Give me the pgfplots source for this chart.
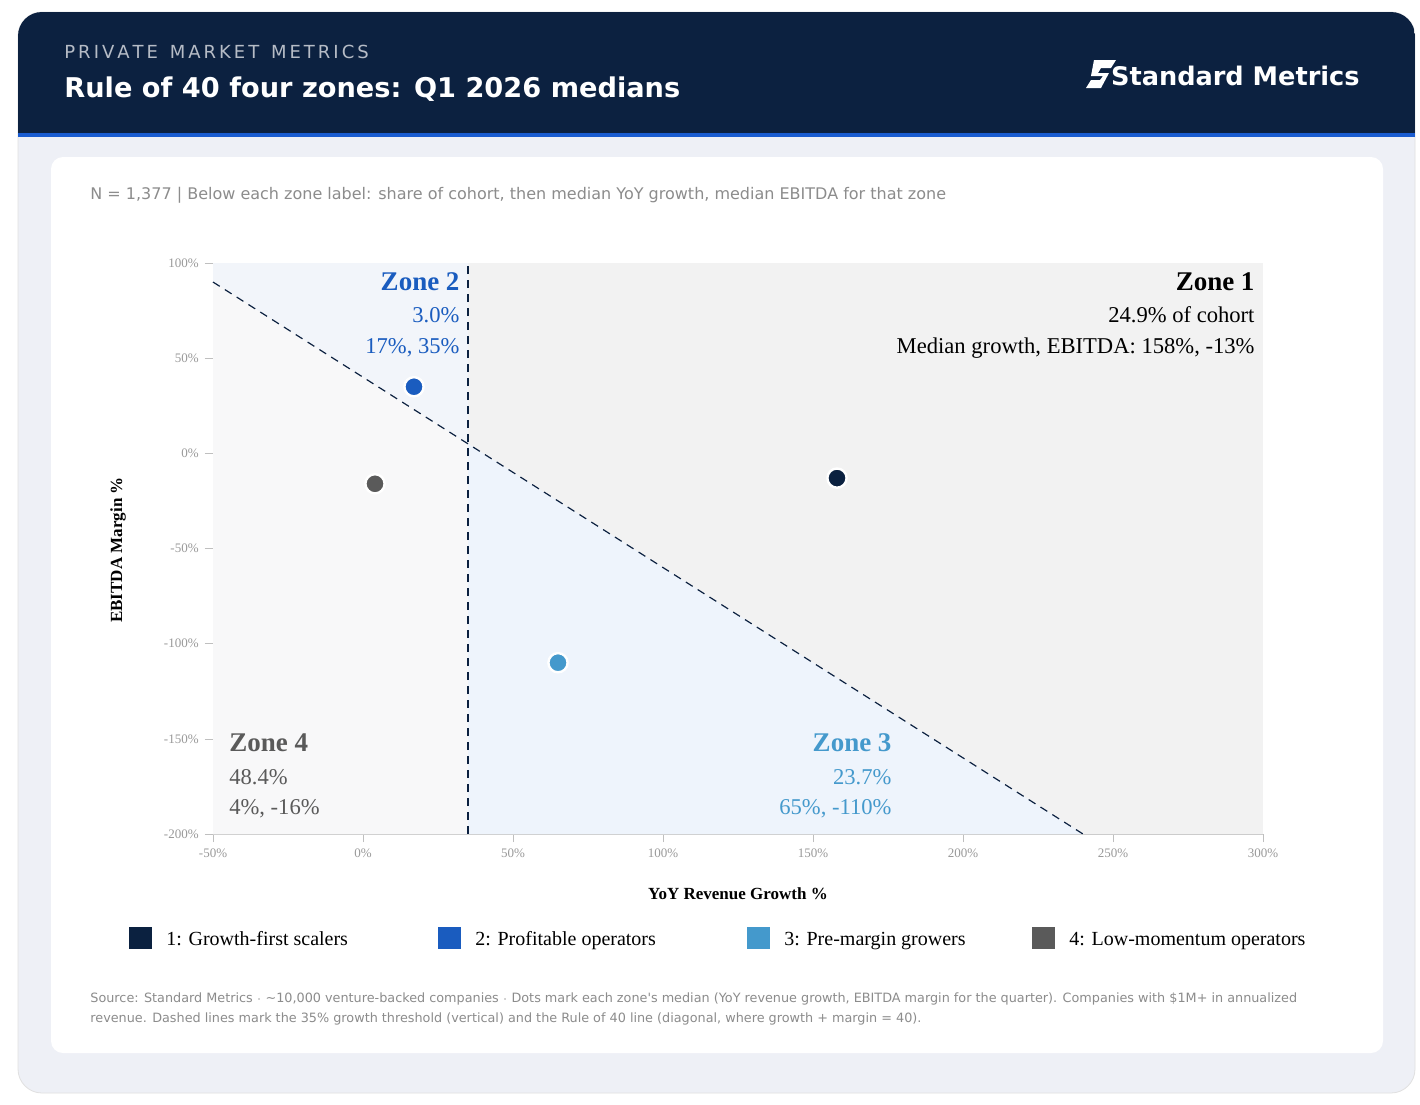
\documentclass[border=0pt]{standalone}
\usepackage{pgfplots}
\pgfplotsset{compat=1.18}
\usepackage{fontspec}
\setmainfont{Liberation Serif}
\newfontfamily\dv{DejaVu Sans}
\definecolor{navy}{HTML}{0C2140}
\definecolor{zA}{HTML}{0B2140}
\definecolor{zB}{HTML}{1A5CBF}
\definecolor{zC}{HTML}{4499CC}
\definecolor{zD}{HTML}{5A5A5A}
\definecolor{stripe}{HTML}{1A5CD0}
\definecolor{bg}{HTML}{EEF0F6}
\begin{document}
\begin{tikzpicture}[every node/.style={inner sep=0pt}]
\begin{scope}[x=0.5pt,y=-0.5pt]
\fill[white] (0,0) rectangle (1420,1104);
\fill[bg,draw=black!12,rounded corners=12pt] (18,12) rectangle (1415,1093);
\begin{scope}
\clip[rounded corners=12pt] (18,12) rectangle (1415,300);
\fill[navy] (18,12) rectangle (1415,133);
\end{scope}
\fill[stripe] (18,133) rectangle (1415,137);
\fill[white,rounded corners=6pt] (51,157) rectangle (1383,1053);
\node[anchor=base west,text=white!70!navy,font=\dv\fontsize{9}{10}\selectfont] at (64,58) {P\,R\,I\,V\,A\,T\,E\, \,M\,A\,R\,K\,E\,T\, \,M\,E\,T\,R\,I\,C\,S};
\node[anchor=base west,text=white,font=\dv\bfseries\fontsize{13.6}{16}\selectfont] at (64,97) {Rule of 40 four zones: Q1 2026 medians};
\node[anchor=base east,text=white,font=\dv\bfseries\fontsize{12.8}{16}\selectfont] at (1360,85) {Standard Metrics};
\fill[white] (1094,60) -- (1116,60) -- (1111,68) -- (1101,68) -- (1098,73) -- (1109,73) -- (1101,88) -- (1086,88) -- (1091,80) -- (1100,80) -- (1103,76) -- (1091,76) -- cycle;
\node[anchor=base west,text=black!45,font=\dv\fontsize{8}{9}\selectfont] at (90,199) {N = 1,377 | Below each zone label: share of cohort, then median YoY growth, median EBITDA for that zone};
\node[anchor=base west,text=black!45,font=\dv\fontsize{6.4}{10}\selectfont,align=left] at (90,1002) {Source: Standard Metrics $\cdot$ \textasciitilde10,000 venture-backed companies $\cdot$ Dots mark each zone's median (YoY revenue growth, EBITDA margin for the quarter). Companies with \$1M+ in annualized};
\node[anchor=base west,text=black!45,font=\dv\fontsize{6.4}{10}\selectfont,align=left] at (90,1022) {revenue. Dashed lines mark the 35\% growth threshold (vertical) and the Rule of 40 line (diagonal, where growth + margin = 40).};
\node[font=\bfseries\fontsize{8.5}{10}\selectfont] at (738,894) {YoY Revenue Growth \%};
\node[font=\bfseries\fontsize{8.5}{10}\selectfont,rotate=90] at (118,550) {EBITDA Margin \%};
\foreach \xx/\cc/\tt in {129/zA/{1: Growth-first scalers},438/zB/{2: Profitable operators},747/zC/{3: Pre-margin growers},1032/zD/{4: Low-momentum operators}}{
 \fill[\cc] (\xx,927) rectangle ++(23,22);
 \node[anchor=base west,font=\fontsize{10}{12}\selectfont] at (\xx+37,945) {\tt};
}
\end{scope}
\begin{axis}[at={(106.5pt,-417pt)},anchor=south west,width=525pt,height=285.5pt,scale only axis,
 xmin=-50,xmax=300,ymin=-200,ymax=100,
 xtick={-50,0,...,300},ytick={-200,-150,...,100},
 xticklabel={\pgfmathprintnumber{\tick}\%},yticklabel={\pgfmathprintnumber{\tick}\%},
 /pgf/number format/assume math mode=true,
 ticklabel style={font=\fontsize{6.5}{8}\selectfont,text=black!40},
 xticklabel style={yshift=-3pt},yticklabel style={xshift=-3pt},
 axis x line*=bottom,axis y line*=left,axis line style={black!20},
 tick style={black!25},tick align=outside,major tick length=4pt,
 clip=false]
\fill[fill=black!3] (-50,-200) rectangle (35,100);
\fill[fill=black!5] (35,-200) rectangle (300,100);
\fill[fill={rgb,255:red,242;green,245;blue,250}] (-50,90) -- (35,5) -- (35,100) -- (-50,100) -- cycle;
\fill[fill={rgb,255:red,248;green,248;blue,249}] (-50,90) -- (35,5) -- (35,-200) -- (-50,-200) -- cycle;
\fill[fill={rgb,255:red,238;green,244;blue,252}] (35,5) -- (240,-200) -- (35,-200) -- cycle;
\addplot[navy,semithick,dash pattern=on 4pt off 3pt] coordinates {(-50,90) (240,-200)};
\addplot[navy,semithick,dash pattern=on 4pt off 3pt] coordinates {(35,-200) (35,100)};
\addplot[only marks,mark=*,mark size=4.8pt,mark options={fill=zA,draw=white,line width=1.2pt}] coordinates {(158,-13)};
\addplot[only marks,mark=*,mark size=4.8pt,mark options={fill=zB,draw=white,line width=1.2pt}] coordinates {(17,35)};
\addplot[only marks,mark=*,mark size=4.8pt,mark options={fill=zC,draw=white,line width=1.2pt}] coordinates {(65,-110)};
\addplot[only marks,mark=*,mark size=4.8pt,mark options={fill=zD,draw=white,line width=1.2pt}] coordinates {(4,-16)};
\node[anchor=base east,text=zB,font=\bfseries\fontsize{13.5}{14}\selectfont] at (32.3,85.8) {Zone 2};
\node[anchor=base east,text=zB,font=\fontsize{11.3}{12}\selectfont] at (32.3,68.5) {3.0\%};
\node[anchor=base east,text=zB,font=\fontsize{11.3}{12}\selectfont] at (32.3,52.7) {17\%, 35\%};
\node[anchor=base east,text=black,font=\bfseries\fontsize{13.5}{14}\selectfont] at (297.3,85.8) {Zone 1};
\node[anchor=base east,font=\fontsize{11.3}{12}\selectfont] at (297.3,68.5) {24.9\% of cohort};
\node[anchor=base east,font=\fontsize{11.3}{12}\selectfont] at (297.3,52.7) {Median growth, EBITDA: 158\%, -13\%};
\node[anchor=base west,text=zD,font=\bfseries\fontsize{13.5}{14}\selectfont] at (-44.7,-156.4) {Zone 4};
\node[anchor=base west,text=zD,font=\fontsize{11.3}{12}\selectfont] at (-44.7,-173.8) {48.4\%};
\node[anchor=base west,text=zD,font=\fontsize{11.3}{12}\selectfont] at (-44.7,-189.5) {4\%, -16\%};
\node[anchor=base east,text=zC,font=\bfseries\fontsize{13.5}{14}\selectfont] at (176.3,-156.4) {Zone 3};
\node[anchor=base east,text=zC,font=\fontsize{11.3}{12}\selectfont] at (176.3,-173.8) {23.7\%};
\node[anchor=base east,text=zC,font=\fontsize{11.3}{12}\selectfont] at (176.3,-189.5) {65\%, -110\%};
\end{axis}
\end{tikzpicture}
\end{document}
